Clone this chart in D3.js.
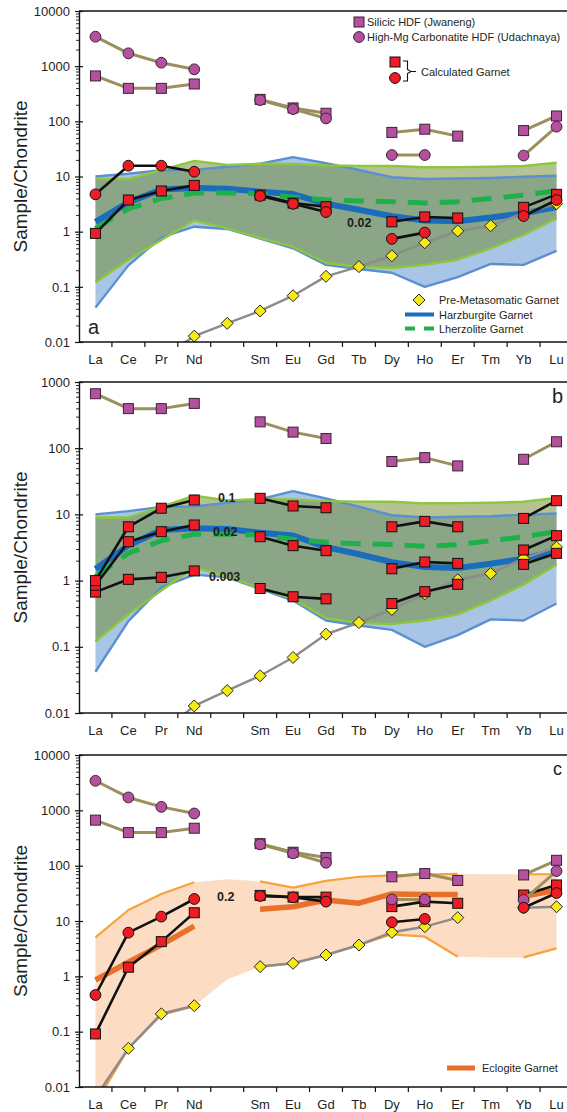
<!DOCTYPE html>
<html><head><meta charset="utf-8">
<script src="https://cdn.jsdelivr.net/npm/d3@7"></script>
<style>
body{margin:0;background:#fff}
svg{display:block}
text{font-family:"Liberation Sans",Arial,sans-serif;fill:#231f20}
</style>
</head><body>
<svg id="chart" width="567" height="1112"></svg>
<script>
// ---------- categories & ticks ----------
const elements   = ["La","Ce","Pr","Nd","Pm","Sm","Eu","Gd","Tb","Dy","Ho","Er","Tm","Yb","Lu"];
const tickLabels = ["La","Ce","Pr","Nd","","Sm","Eu","Gd","Tb","Dy","Ho","Er","Tm","Yb","Lu"];
const yTicks4 = [0.01,0.1,1,10,100,1000,10000];
const yTicks3 = [0.01,0.1,1,10,100,1000];
const bandLineGaps = ["Pm","Tm"];

// ---------- HDF compositions ----------
const silicicHDF     = [665,396,396,475,null,250,175,140,null,63,72,54,null,68,125];
const carbonatiteHDF = [3420,1710,1156,877,null,243,167,113,null,24.5,24.5,null,null,24,80];

// ---------- peridotite garnet fields ----------
const harzUpper  = [10,11.2,13,13.2,15,17,22.5,17.4,13.1,9.7,9.0,9.2,9.4,9.9,10.3];
const harzLower  = [0.042,0.245,0.79,1.23,1.12,0.75,0.5,0.25,0.21,0.18,0.1,0.15,0.26,0.25,0.45];
const harzMedian = [1.5,3.4,5.8,6.2,6.0,5.3,4.8,3.2,2.5,1.9,1.6,1.55,1.8,2.15,2.8];
const lherzUpper  = [9,9,13,19.2,16.2,17,16.8,15.8,15.6,15.5,14.7,14.8,15,15.5,17.8];
const lherzLower  = [0.12,0.31,0.71,1.59,1.15,0.77,0.53,0.27,0.23,0.22,0.25,0.31,0.5,0.87,1.74];
const lherzMedian = [1.15,2.6,4.0,5.0,5.0,4.9,4.2,3.8,3.6,3.5,3.3,3.5,4.0,4.6,5.5];

// ---------- pre-metasomatic garnet ----------
const preMetaAB = [null,null,0.005,0.0128,0.0218,0.0365,0.069,0.155,0.232,0.366,0.63,1.03,1.28,2.17,3.2];
const preMetaC  = [0.0065,0.05,0.21,0.295,null,1.5,1.72,2.43,3.68,6.24,7.9,11.5,null,17.4,18.1];

// ---------- calculated garnets ----------
const calcCircleA = [4.75,15.7,15.7,12.2,null,4.43,3.2,2.27,null,0.74,0.96,null,null,1.92,3.75];
const calcSquareA = [0.93,3.75,5.46,6.9,null,4.6,3.3,2.83,null,1.51,1.85,1.77,null,2.76,4.75];
const calcSquareB010  = [1.0,6.5,12.4,16.5,null,17.5,13.4,12.6,null,6.5,7.85,6.5,null,8.7,16.1];
const calcSquareB002  = [0.85,3.87,5.48,6.92,null,4.6,3.37,2.83,null,1.51,1.91,1.82,null,2.9,4.77];
const calcSquareB0003 = [0.67,1.045,1.12,1.4,null,0.76,0.57,0.53,null,0.45,0.68,0.88,null,1.76,2.58];
const calcCircleC = [0.46,6.15,12,25,null,28.3,26.8,22.4,null,9.5,10.9,null,null,17.4,32];
const calcSquareC = [0.091,1.46,4.24,14.1,null,29,27,27,null,18.2,22.4,20.9,null,29.5,44.8];

// ---------- eclogite garnet ----------
const eclogiteMedian = [0.86,1.8,3.7,8.1,null,16.3,18.1,24,21,30.8,30,30,null,28,36];
const eclogiteUpper  = [5.07,15.8,30.8,50,57,52,40,53,63,67,69,71,70,70,70];
const eclogiteLower  = [0.005,0.05,0.2,0.29,0.88,1.5,1.72,2.43,3.68,5.75,5.2,2.26,2.2,2.2,3.2];

// ---------- colours ----------
const C = {
  purple:"#b5509f", purpleStroke:"#3b2236", hdfLine:"#9b8f5e",
  red:"#ed1c24", black:"#111",
  yellow:"#f6ea14", grey:"#8c8c8c",
  harzFill:"#a9c5e5", harzEdge:"#5b8fd2", harzMed:"#1a6cbd",
  lherzFill:"#6c8729", lherzEdge:"#8dc63f", lherzMed:"#1fb04b",
  eclFill:"#fcdcc2", eclEdge:"#f8a23e", eclMed:"#e8702a"
};

const svg = d3.select("#chart");
const plotLeft = 79, plotRight = 567;
const x = d3.scaleBand().domain(elements).range([79, 573]).padding(0);
const cx = e => x(e) + x.bandwidth() / 2;
const ser = vals => elements.map((e, i) => ({e, v: vals[i]}));
const band = (lo, hi) => elements.map((e, i) => ({e, lo: lo[i], hi: hi[i]}));

function makePanel(id, top, bottom, yMax, ticks, letter, letterPos, letterSize) {
  const y = d3.scaleLog().domain([0.01, yMax]).range([bottom, top]);
  const g = svg.append("g");
  svg.append("clipPath").attr("id", "clip-" + id).append("rect")
    .attr("x", plotLeft).attr("y", top - 2).attr("width", plotRight - plotLeft).attr("height", bottom - top + 2);
  const plot = g.append("g").attr("clip-path", `url(#clip-${id})`);
  const P = {y, g, plot, top, bottom};

  P.finish = () => {
    const ax = g.append("g");
    ax.append("line").attr("x1", plotLeft).attr("x2", plotRight).attr("y1", top).attr("y2", top)
      .attr("stroke", "#111").attr("stroke-width", 1.4);
    const xb = g.append("g").attr("transform", `translate(0,${bottom})`)
      .call(d3.axisBottom(x).tickSize(0).tickPadding(13).tickFormat((d, i) => tickLabels[i]));
    xb.select(".domain").remove();
    xb.selectAll("text").attr("font-size", 13).attr("font-family", "Liberation Sans, Arial, sans-serif").attr("fill", "#231f20");
    ax.append("line").attr("x1", plotLeft).attr("x2", plotRight).attr("y1", bottom).attr("y2", bottom)
      .attr("stroke", "#111").attr("stroke-width", 1.4);
    ax.selectAll(".xt").data(elements.slice(1)).join("line")
      .attr("x1", d => x(d)).attr("x2", d => x(d)).attr("y1", bottom).attr("y2", bottom + 5)
      .attr("stroke", "#111").attr("stroke-width", 1.2);
    const yl = g.append("g").attr("transform", `translate(${plotLeft},0)`)
      .call(d3.axisLeft(y).tickValues(ticks).tickSizeInner(4).tickSizeOuter(0).tickPadding(5)
        .tickFormat(d => String(d)));
    yl.select(".domain").attr("stroke", "#111").attr("stroke-width", 1.4);
    yl.selectAll(".tick line").attr("stroke", "#111").attr("stroke-width", 1.2).attr("x2", -4).attr("x1", 4);
    yl.selectAll("text").attr("font-size", 13).attr("font-family", "DejaVu Sans, sans-serif").attr("fill", "#231f20");
    const minors = [];
    ticks.slice(0, -1).forEach(t => { for (let k = 2; k <= 9; k++) minors.push(t * k); });
    const ym = g.append("g").attr("transform", `translate(${plotLeft},0)`)
      .call(d3.axisLeft(y).tickValues(minors).tickSize(3).tickFormat(""));
    ym.select(".domain").remove();
    ym.selectAll(".tick line").attr("stroke", "#111").attr("stroke-width", 0.9);
    g.append("text").attr("transform", `translate(27,${(top + bottom) / 2}) rotate(-90)`)
      .attr("text-anchor", "middle").attr("font-size", 19).text("Sample/Chondrite");
    g.append("text").attr("x", letterPos[0]).attr("y", letterPos[1]).attr("font-size", letterSize).text(letter);
  };
  return P;
}

function lineGen(P, gaps) {
  return d3.line().defined(d => d.v != null && !(gaps && gaps.includes(d.e)))
    .x(d => cx(d.e)).y(d => P.y(d.v));
}
function drawLine(P, vals, color, width, dash, gaps) {
  P.plot.append("path").datum(ser(vals)).attr("d", lineGen(P, gaps))
    .attr("fill", "none").attr("stroke", color).attr("stroke-width", width)
    .attr("stroke-linejoin", "round").attr("stroke-dasharray", dash || null);
}
function drawBand(P, lo, hi, fill, opacity) {
  P.plot.append("path").datum(band(lo, hi))
    .attr("d", d3.area().x(d => cx(d.e)).y0(d => P.y(d.lo)).y1(d => P.y(d.hi)))
    .attr("fill", fill).attr("fill-opacity", opacity);
}
function marker(sel, shape, fill, stroke) {
  if (shape === "square") {
    sel.append("rect").attr("x", -5).attr("y", -5).attr("width", 10).attr("height", 10)
      .attr("fill", fill).attr("stroke", stroke).attr("stroke-width", 1);
  } else if (shape === "circle") {
    sel.append("circle").attr("r", 5.4).attr("fill", fill).attr("stroke", stroke).attr("stroke-width", 1);
  } else {
    sel.append("path").attr("d", "M0,-6L6,0L0,6L-6,0Z").attr("fill", fill).attr("stroke", "#222").attr("stroke-width", 1);
  }
}
function drawMarkers(P, vals, shape, fill, stroke) {
  const gs = P.plot.append("g").selectAll("g").data(ser(vals).filter(d => d.v != null)).join("g")
    .attr("transform", d => `translate(${cx(d.e)},${P.y(d.v)})`);
  gs.each(function () { marker(d3.select(this), shape, fill, stroke); });
}
function series(P, vals, shape, lineColor, lineWidth, fill, stroke) {
  drawLine(P, vals, lineColor, lineWidth);
  drawMarkers(P, vals, shape, fill, stroke);
}
function peridotiteFields(P) {
  drawBand(P, harzLower, harzUpper, C.harzFill, 1);
  drawBand(P, lherzLower, lherzUpper, C.lherzFill, 0.5);
  drawLine(P, harzUpper, C.harzEdge, 2.4);
  drawLine(P, harzLower, C.harzEdge, 2.4);
  drawLine(P, lherzUpper, C.lherzEdge, 2.4);
  drawLine(P, lherzLower, C.lherzEdge, 2.4);
  drawLine(P, harzMedian, C.harzMed, 6);
  drawLine(P, lherzMedian, C.lherzMed, 5, "20,12");
}
function label(P, txt, xx, yy) {
  P.g.append("text").attr("x", xx).attr("y", yy).attr("font-weight", "bold")
    .attr("font-family", "DejaVu Sans, sans-serif").attr("font-size", 12.5).text(txt);
}

// ================= Panel a =================
const A = makePanel("a", 11, 342, 10000, yTicks4, "a", [88, 334], 20);
peridotiteFields(A);
series(A, preMetaAB, "diamond", C.grey, 2.5, C.yellow);
series(A, silicicHDF, "square", C.hdfLine, 3, C.purple, C.purpleStroke);
series(A, carbonatiteHDF, "circle", C.hdfLine, 3, C.purple, C.purpleStroke);
series(A, calcSquareA, "square", C.black, 2.6, C.red, "#111");
series(A, calcCircleA, "circle", C.black, 2.6, C.red, "#111");
label(A, "0.02", 347, 227);
A.finish();
{
  const lg = A.g.append("g");
  const s1 = lg.append("g").attr("transform", "translate(359,22)"); marker(s1, "square", C.purple, C.purpleStroke);
  const s2 = lg.append("g").attr("transform", "translate(359,37)"); marker(s2, "circle", C.purple, C.purpleStroke);
  lg.append("text").attr("x", 367).attr("y", 26).attr("font-size", 11).text("Silicic HDF (Jwaneng)");
  lg.append("text").attr("x", 367).attr("y", 41).attr("font-size", 11).text("High-Mg Carbonatite HDF (Udachnaya)");
  const s3 = lg.append("g").attr("transform", "translate(395,62)"); marker(s3, "square", C.red, "#111");
  const s4 = lg.append("g").attr("transform", "translate(395,78)"); marker(s4, "circle", C.red, "#111");
  lg.append("path").attr("d", "M403,61H407.5V69.5L411,71.5L407.5,73.5V81H403M411,71.5H416")
    .attr("fill", "none").attr("stroke", "#111").attr("stroke-width", 1.1);
  lg.append("text").attr("x", 421).attr("y", 75.5).attr("font-size", 11).text("Calculated Garnet");
  const s5 = lg.append("g").attr("transform", "translate(419,300)"); marker(s5, "diamond", C.yellow);
  lg.append("text").attr("x", 439).attr("y", 304).attr("font-size", 11).text("Pre-Metasomatic Garnet");
  lg.append("line").attr("x1", 405).attr("x2", 434).attr("y1", 314.5).attr("y2", 314.5).attr("stroke", C.harzMed).attr("stroke-width", 4);
  lg.append("text").attr("x", 439).attr("y", 318.5).attr("font-size", 11).text("Harzburgite Garnet");
  lg.append("line").attr("x1", 405).attr("x2", 434).attr("y1", 328.5).attr("y2", 328.5).attr("stroke", C.lherzMed).attr("stroke-width", 4).attr("stroke-dasharray", "10,9");
  lg.append("text").attr("x", 439).attr("y", 332.5).attr("font-size", 11).text("Lherzolite Garnet");
}

// ================= Panel b =================
const B = makePanel("b", 382, 713, 1000, yTicks3, "b", [552, 403], 20);
peridotiteFields(B);
series(B, preMetaAB, "diamond", C.grey, 2.5, C.yellow);
series(B, silicicHDF, "square", C.hdfLine, 3, C.purple, C.purpleStroke);
series(B, calcSquareB0003, "square", C.black, 2.6, C.red, "#111");
series(B, calcSquareB002, "square", C.black, 2.6, C.red, "#111");
series(B, calcSquareB010, "square", C.black, 2.6, C.red, "#111");
label(B, "0.1", 218, 502);
label(B, "0.02", 213, 536);
label(B, "0.003", 209, 581);
B.finish();

// ================= Panel c =================
const Cp = makePanel("c", 755, 1087, 10000, yTicks4, "c", [553, 775], 18);
drawBand(Cp, eclogiteLower, eclogiteUpper, C.eclFill, 1);
drawLine(Cp, eclogiteUpper, C.eclEdge, 2.2, null, bandLineGaps);
drawLine(Cp, eclogiteLower, C.eclEdge, 2.2, null, bandLineGaps);
drawLine(Cp, eclogiteMedian, C.eclMed, 5.5);
series(Cp, preMetaC, "diamond", C.grey, 2.5, C.yellow);
series(Cp, silicicHDF, "square", C.hdfLine, 3, C.purple, C.purpleStroke);
series(Cp, calcSquareC, "square", C.black, 2.6, C.red, "#111");
series(Cp, carbonatiteHDF, "circle", C.hdfLine, 3, C.purple, C.purpleStroke);
series(Cp, calcCircleC, "circle", C.black, 2.6, C.red, "#111");
label(Cp, "0.2", 217, 901);
Cp.finish();
{
  const lg = Cp.g.append("g");
  lg.append("line").attr("x1", 447).attr("x2", 475).attr("y1", 1068).attr("y2", 1068).attr("stroke", C.eclMed).attr("stroke-width", 5);
  lg.append("text").attr("x", 482).attr("y", 1072).attr("font-size", 11).text("Eclogite Garnet");
}
</script>
</body></html>
